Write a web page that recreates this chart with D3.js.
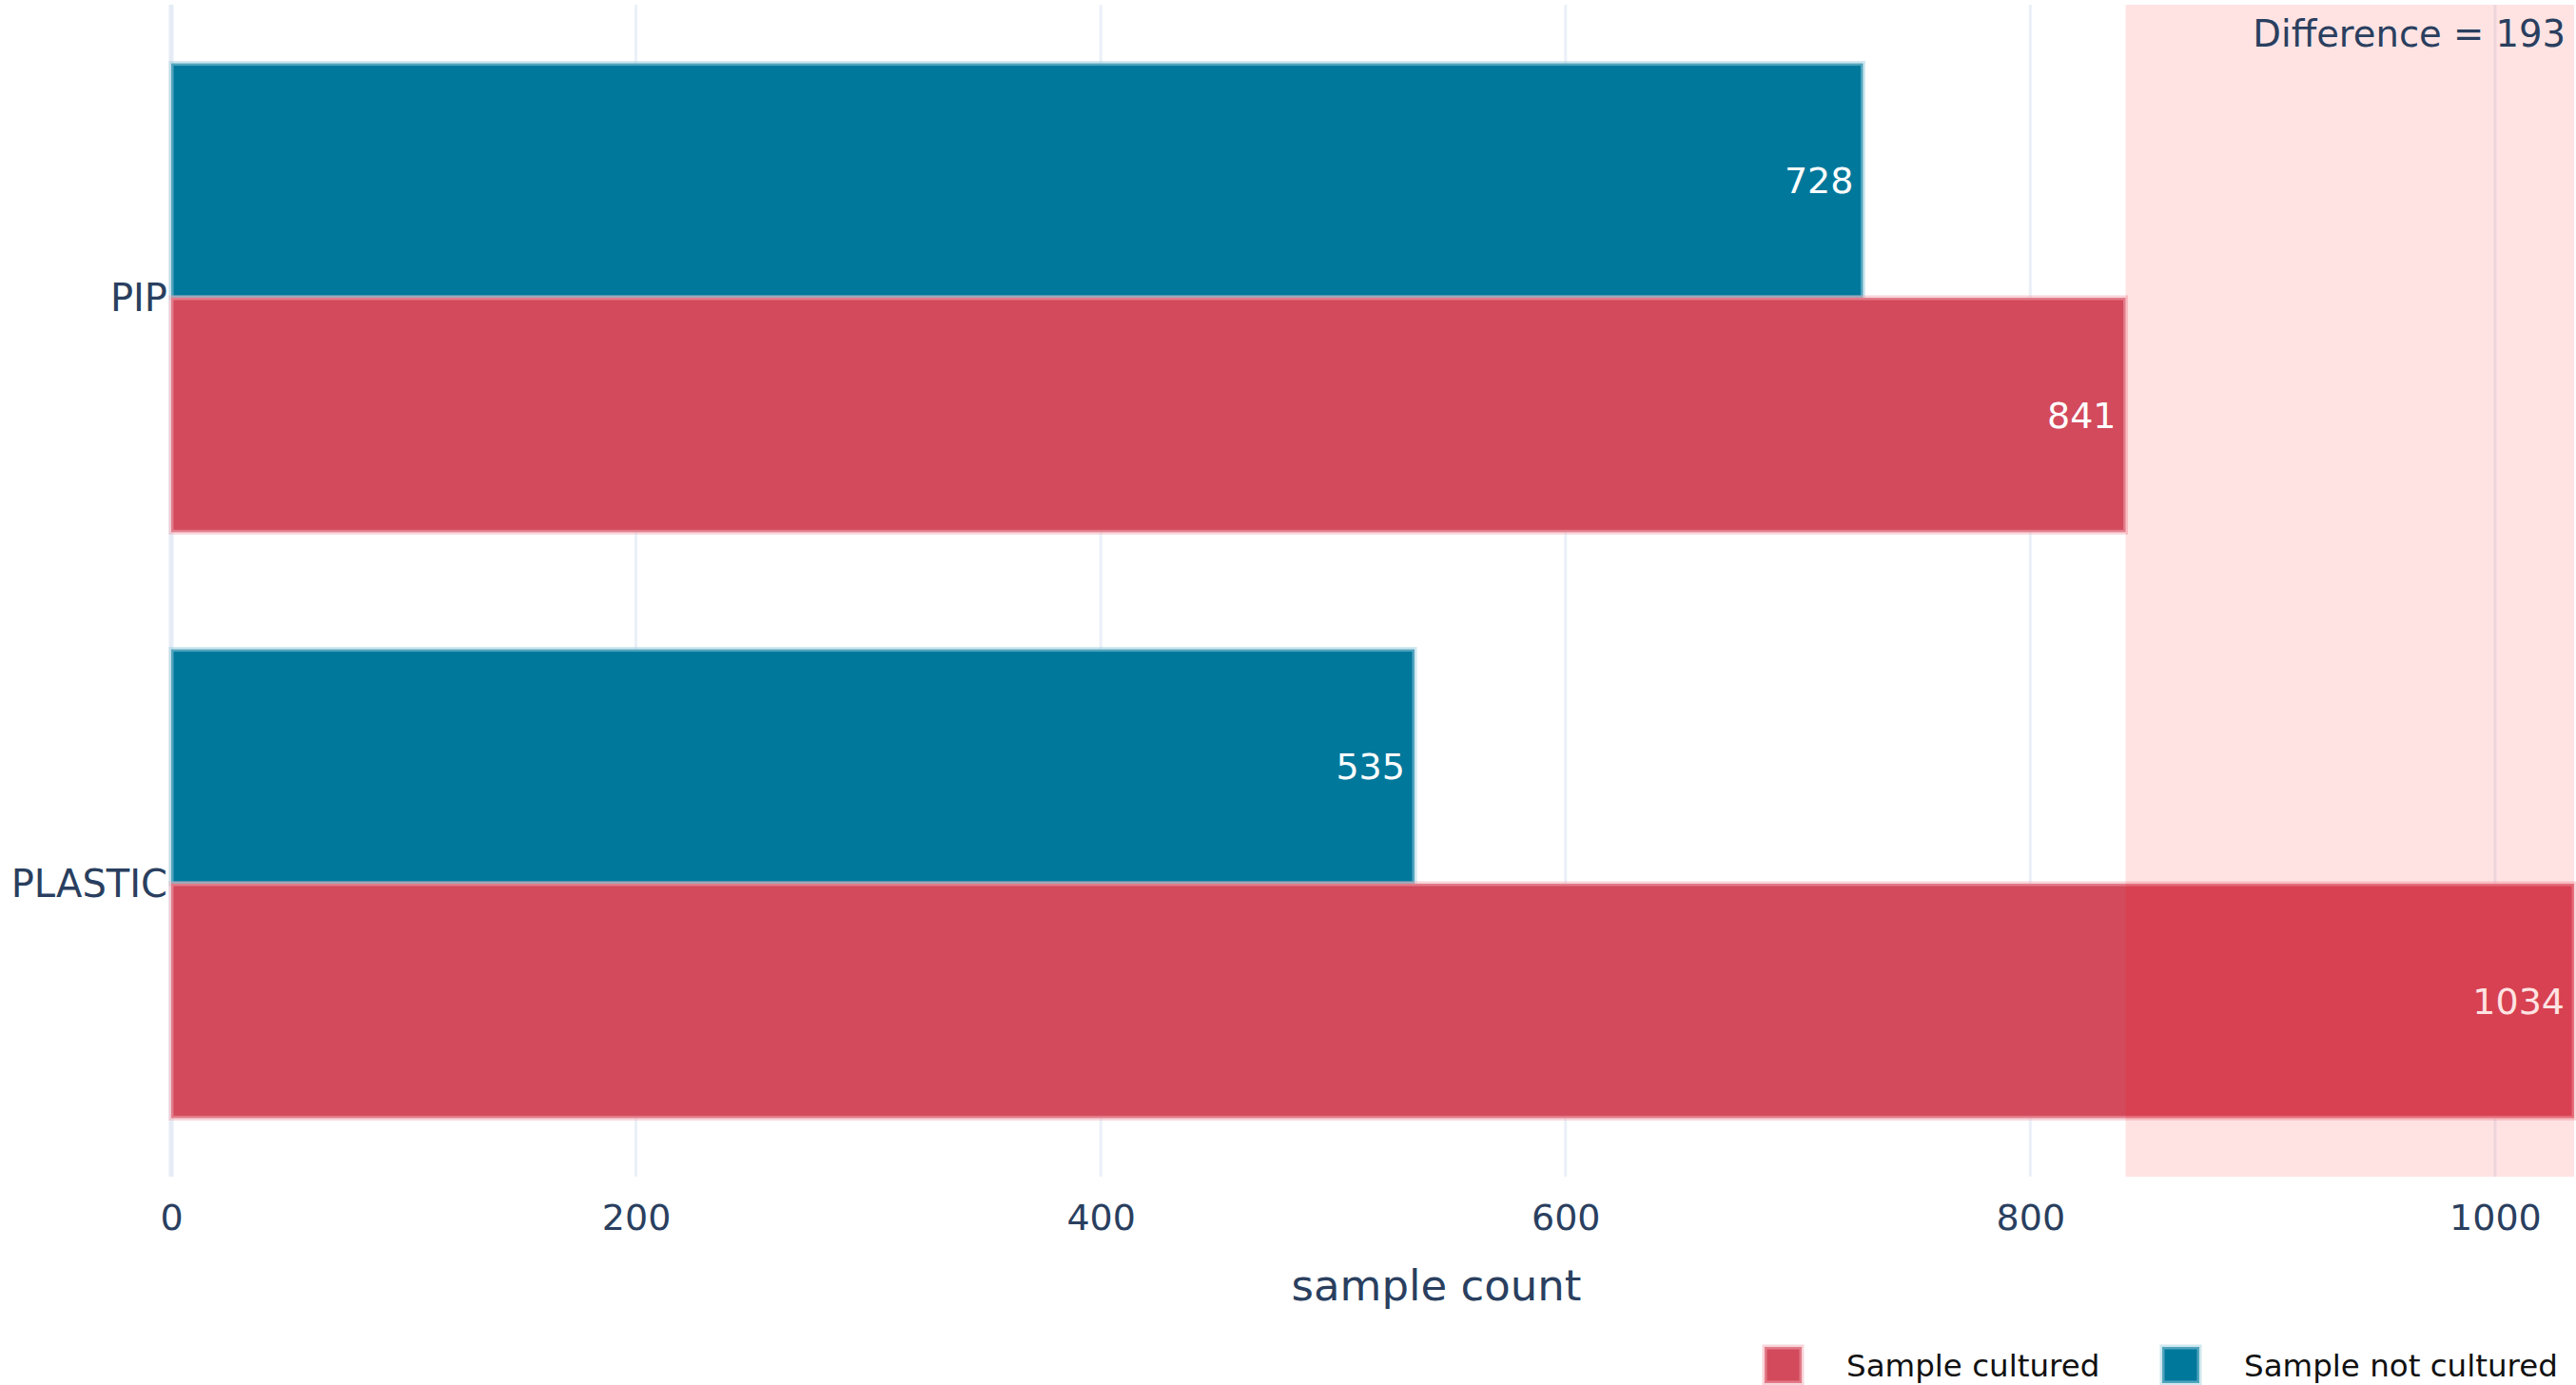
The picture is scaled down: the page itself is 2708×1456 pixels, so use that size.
<!DOCTYPE html>
<html>
<head>
<meta charset="utf-8">
<script src="https://cdn.jsdelivr.net/npm/d3@7"></script>
<style>
  html, body { margin: 0; padding: 0; background: #fff; }
  svg { display: block; }
  text { font-family: "DejaVu Sans", Verdana, sans-serif; }
</style>
</head>
<body>
<svg id="chart" width="2708" height="1456"></svg>
<script>
// Sample counts per collection type
const categories = ["PIP", "PLASTIC"];
const notCultured = [728, 535];
const cultured = [841, 1034];
const seriesNames = ["Sample cultured", "Sample not cultured"];
const xTicks = [0, 200, 400, 600, 800, 1000];
const xTitle = "sample count";

const W = 2708, H = 1456;
const plot = { left: 180, right: 2706, top: 5, bottom: 1237 };
const colors = { cultured: "#d24a5c", notCultured: "#00789b" };
const tints = { cultured: "#f2aab4", notCultured: "#9fd0e0" };
const axisColor = "#2a3f5f";
const gridColor = "#ebf0f8";

const svg = d3.select("#chart");

const x = d3.scaleLinear().domain([0, d3.max(cultured.concat(notCultured))]).range([plot.left, plot.right]);
const y = d3.scaleBand().domain(categories).range([plot.top, plot.bottom]).paddingInner(0.2).paddingOuter(0.1);
const sub = d3.scaleBand().domain(["notCultured", "cultured"]).range([0, y.bandwidth()]);

// Vertical gridlines
const grid = svg.append("g");
grid.selectAll("line.grid").data(xTicks.filter(d => d !== 0)).join("line")
  .attr("class", "grid")
  .attr("x1", d => x(d)).attr("x2", d => x(d))
  .attr("y1", plot.top).attr("y2", plot.bottom)
  .attr("stroke", gridColor).attr("stroke-width", 3);
// Zero line
grid.append("line")
  .attr("x1", x(0)).attr("x2", x(0))
  .attr("y1", plot.top).attr("y2", plot.bottom)
  .attr("stroke", "#e6ecf5").attr("stroke-width", 5);

// Bars
const rows = categories.map((c, i) => ({ cat: c, notCultured: notCultured[i], cultured: cultured[i] }));
const barData = [];
rows.forEach(r => {
  barData.push({ cat: r.cat, key: "notCultured", value: r.notCultured });
  barData.push({ cat: r.cat, key: "cultured", value: r.cultured });
});

const bars = svg.append("g");
bars.selectAll("rect").data(barData).join("rect")
  .attr("x", x(0))
  .attr("y", d => y(d.cat) + sub(d.key))
  .attr("width", d => x(d.value) - x(0))
  .attr("height", sub.bandwidth())
  .attr("fill", d => colors[d.key])
  .attr("stroke", d => tints[d.key])
  .attr("stroke-opacity", 0.5)
  .attr("stroke-width", 5);

// Value labels inside bar ends
bars.selectAll("text").data(barData).join("text")
  .attr("x", d => x(d.value) - 10)
  .attr("y", d => y(d.cat) + sub(d.key) + sub.bandwidth() / 2)
  .attr("dy", "0.36em")
  .attr("text-anchor", "end")
  .attr("fill", "#fff")
  .attr("font-size", 38)
  .text(d => d.value);

// Highlighted gap between PIP cultured and the largest count
const lo = cultured[0], hi = d3.max(cultured);
svg.append("rect")
  .attr("x", x(lo)).attr("y", plot.top)
  .attr("width", x(hi) - x(lo)).attr("height", plot.bottom - plot.top)
  .attr("fill", "red").attr("fill-opacity", 0.11);

svg.append("text")
  .attr("x", 2697).attr("y", 49)
  .attr("text-anchor", "end")
  .attr("fill", axisColor)
  .attr("font-size", 38.5)
  .text("Difference = " + (hi - lo));

// X axis tick labels
const xAxis = d3.axisBottom(x).tickValues(xTicks).tickSize(0).tickPadding(0).tickFormat(d3.format("d"));
const xg = svg.append("g").attr("transform", `translate(0, ${plot.bottom})`).call(xAxis);
xg.select(".domain").remove();
xg.selectAll("text")
  .attr("y", 29).attr("dy", "0.71em")
  .attr("fill", axisColor)
  .attr("font-size", 38)
  .attr("font-family", '"DejaVu Sans", Verdana, sans-serif');

// Y axis category labels
const yAxis = d3.axisLeft(y).tickSize(0).tickPadding(0);
const yg = svg.append("g").attr("transform", `translate(${plot.left - 4}, 0)`).call(yAxis);
yg.select(".domain").remove();
yg.selectAll("text")
  .attr("dy", "0.36em")
  .attr("fill", axisColor)
  .attr("font-size", 40)
  .attr("font-family", '"DejaVu Sans", Verdana, sans-serif');

// Axis title
svg.append("text")
  .attr("x", 1510).attr("y", 1367)
  .attr("text-anchor", "middle")
  .attr("fill", axisColor)
  .attr("font-size", 45)
  .text(xTitle);

// Legend
const legendItems = [
  { name: seriesNames[0], key: "cultured", x: 1855 },
  { name: seriesNames[1], key: "notCultured", x: 2273 }
];
const lg = svg.append("g");
const li = lg.selectAll("g").data(legendItems).join("g")
  .attr("transform", d => `translate(${d.x}, 1416)`);
li.append("rect")
  .attr("width", 39).attr("height", 38)
  .attr("fill", d => colors[d.key])
  .attr("stroke", d => tints[d.key])
  .attr("stroke-opacity", 0.5)
  .attr("stroke-width", 5);
li.append("text")
  .attr("x", 86).attr("y", 19)
  .attr("dy", "0.36em")
  .attr("fill", "#111")
  .attr("font-size", 32.5)
  .text(d => d.name);
</script>
</body>
</html>
